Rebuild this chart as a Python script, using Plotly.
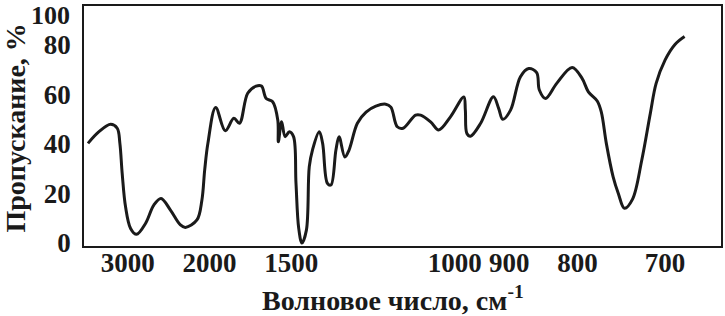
import plotly.graph_objects as go

# IR spectrum: wavenumber (cm^-1) and transmittance (%)
wavenumber = [3968, 3644, 3354, 3209, 3154, 3108, 3043, 2951, 2849, 2708, 2589, 2494,
              2380, 2270, 2219, 2109, 2065, 2041, 2014, 1952, 1880, 1820, 1783, 1731,
              1681, 1651, 1625, 1591, 1565, 1562, 1546, 1529, 1509, 1490, 1479, 1467,
              1453, 1434, 1422, 1409, 1382, 1369, 1351, 1338, 1320, 1309, 1289, 1275,
              1248, 1221, 1192, 1164, 1150, 1133, 1118, 1087, 1075, 1052, 1034, 1009,
              982, 979, 976, 969, 950, 927, 918, 911, 898, 882, 869, 857, 853, 844,
              828, 807, 794, 786, 775, 770, 764, 756, 750, 743, 734, 724, 715, 709,
              700, 690, 681]
transmittance = [40.2, 44.9, 47.9, 46.3, 40.2, 28.1, 14.6, 5.9, 3.5, 7.9, 15.3, 18.0,
                 13.3, 7.3, 6.3, 9.3, 17.3, 29.4, 40.2, 54.7, 45.3, 50.3, 48.3, 60.4,
                 63.3, 63.3, 58.3, 57.0, 49.6, 40.8, 48.9, 42.9, 44.9, 42.9, 24.1, 6.0,
                 0.0, 5.2, 30.8, 37.5, 44.9, 40.2, 24.1, 23.4, 37.5, 42.9, 34.7, 37.5,
                 48.3, 52.8, 55.2, 56.0, 54.8, 46.9, 46.3, 51.6, 51.6, 48.9, 45.6, 50.9,
                 58.9, 53.6, 44.2, 43.1, 48.3, 59.0, 54.3, 49.9, 53.6, 67.1, 70.4, 68.7,
                 61.7, 58.3, 64.4, 70.8, 66.4, 61.0, 57.3, 52.8, 40.2, 26.7, 20.0, 14.0,
                 17.7, 33.5, 52.3, 64.4, 73.8, 80.2, 83.3]

x_ticks = [3000, 2000, 1500, 1000, 900, 800, 700]
y_ticks = [0, 20, 40, 60, 80]

# axis is linear in wavelength (um) = 1e4 / wavenumber
wavelength = [1e4 / w for w in wavenumber]

FONT = "Liberation Serif"

fig = go.Figure()
fig.add_trace(go.Scatter(
    x=wavelength, y=transmittance, mode="lines",
    line=dict(color="#1a1a1a", width=3, shape="spline", smoothing=1.0),
    showlegend=False, hoverinfo="skip"))

fig.update_layout(
    width=725, height=316,
    margin=dict(l=84, r=2, t=6, b=70),
    paper_bgcolor="white", plot_bgcolor="white",
    font=dict(family=FONT, color="#1a1a1a"),
    xaxis=dict(range=[2.439, 15.427], tickvals=[1e4 / v for v in x_ticks],
               ticktext=[f"<b>{v}</b>" for v in x_ticks],
               showgrid=False, zeroline=False, showline=True, mirror=True,
               linecolor="#1a1a1a", linewidth=1.5, ticks="",
               tickfont=dict(size=27, family=FONT), ticklabelstandoff=-8),
    yaxis=dict(range=[-1.2, 95.6], tickvals=y_ticks,
               ticktext=[f"<b>{v}</b>" for v in y_ticks],
               showgrid=False, zeroline=False, showline=True, mirror=True,
               linecolor="#1a1a1a", linewidth=1.5, ticks="",
               tickfont=dict(size=27, family=FONT), ticklabelstandoff=6),
    annotations=[
        dict(text="<b>100</b>", xref="paper", yref="paper", x=-0.0188, y=1.0,
             xanchor="right", yanchor="middle", showarrow=False, yshift=-9,
             font=dict(size=26, family=FONT, color="#1a1a1a")),
        dict(text="<b>Волновое число, см<sup>-1</sup></b>", xref="paper", yref="paper",
             x=0.485, y=-0.218, xanchor="center", yanchor="middle", showarrow=False,
             font=dict(size=28, family=FONT, color="#1a1a1a")),
        dict(text="<b>Пропускание, %</b>", xref="paper", yref="paper",
             x=-0.108, y=0.49, xanchor="center", yanchor="middle", showarrow=False,
             textangle=-90, font=dict(size=28, family=FONT, color="#1a1a1a")),
    ],
)

fig.write_html("out.html")
